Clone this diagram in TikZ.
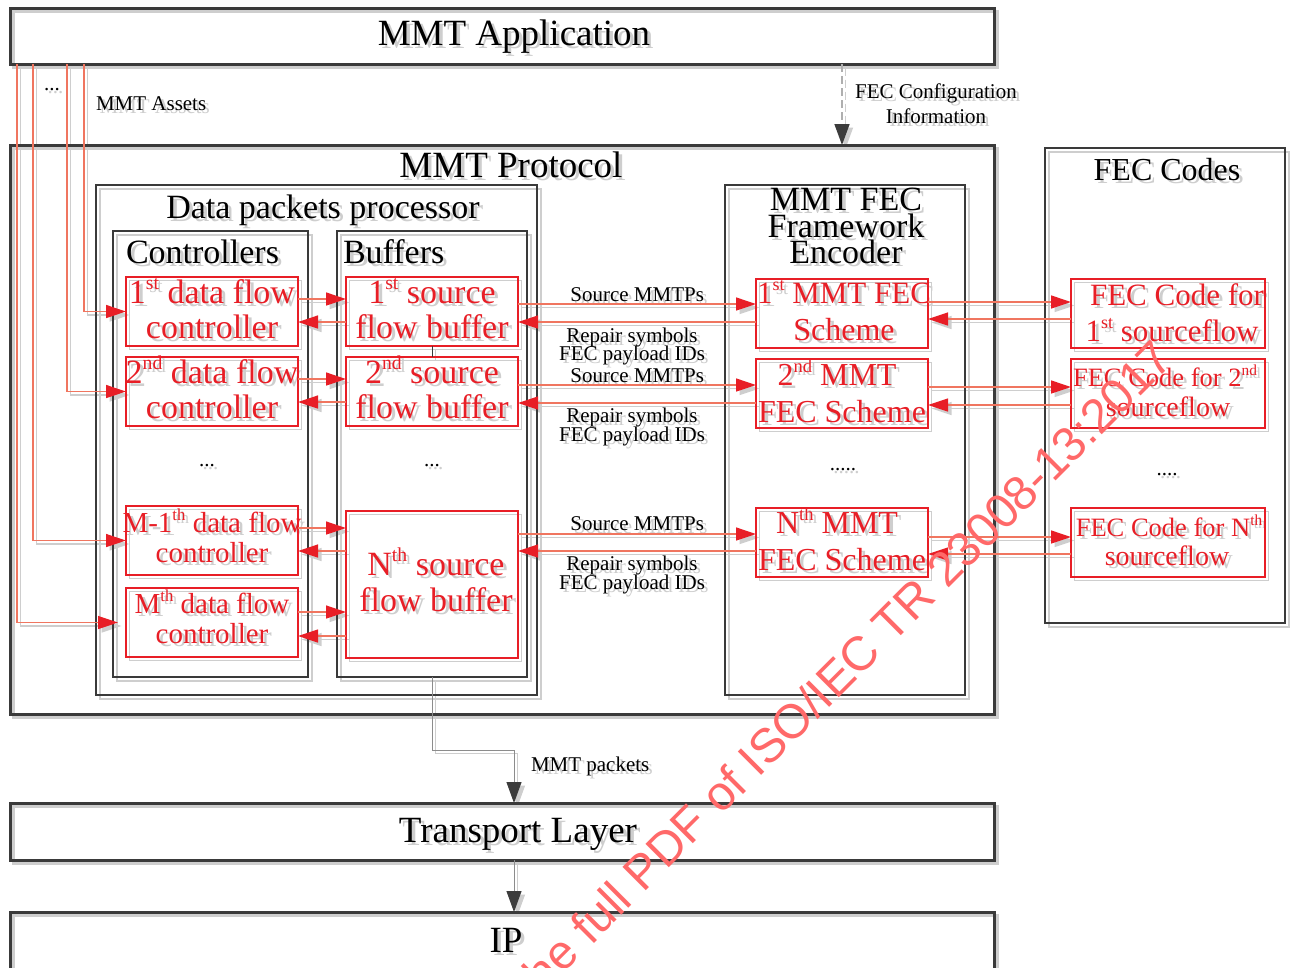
\documentclass[tikz,border=0pt]{standalone}
\usepackage{fontspec}
\setmainfont{Liberation Serif}
\newfontfamily\wmfont{Liberation Sans}
\usetikzlibrary{arrows.meta}

\definecolor{shadowgray}{RGB}{206,206,206}
\definecolor{framecol}{RGB}{58,58,58}
\definecolor{inkcol}{RGB}{0,0,0}
\definecolor{redcol}{RGB}{232,30,38}
\definecolor{linkcol}{RGB}{240,118,96}
\definecolor{tipcol}{RGB}{232,30,38}
\definecolor{graycol}{RGB}{140,140,140}
\definecolor{dashcol}{RGB}{175,175,175}
\definecolor{darktip}{RGB}{60,60,60}
\definecolor{wmcol}{RGB}{255,105,105}

\newcommand\fsz[2]{\fontsize{#1}{#2}\selectfont}
% small raised ordinal suffix
\newcommand\ordsup[1]{\raisebox{0.4em}{\scalebox{0.58}{#1}}}

\tikzset{
  layerbox/.style={draw=framecol, line width=3pt, inner sep=0pt, outer sep=0pt},
  groupbox/.style={draw=framecol, line width=2pt, inner sep=0pt, outer sep=0pt},
  redbox/.style={draw=redcol, line width=1.5pt, inner sep=0pt, outer sep=0pt},
  txt/.style={inner sep=0pt, outer sep=0pt, anchor=base},
  titletext/.style={txt, text=inkcol, font=\fsz{37}{40}},
  subtext/.style={txt, text=inkcol, font=\fsz{34}{36}},
  labeltext/.style={txt, text=inkcol, font=\fsz{21}{21}},
  redtext/.style={txt, text=redcol, font=\fsz{#1}{#1}},
  redtext/.default=34,
  redlink/.style={draw=linkcol, line width=1.3pt, -{Triangle[length=20pt,width=13pt,color=tipcol]}},
  graylink/.style={draw=graycol, line width=1pt, -{Triangle[length=21pt,width=15pt,color=darktip]}},
  dashlink/.style={draw=dashcol, line width=1.6pt, dash pattern=on 8pt off 4pt, -{Triangle[length=21pt,width=15pt,color=darktip]}},
  thinlink/.style={draw=framecol, line width=1pt},
}

% rectangle node from its corners: style, name, x1, y1, x2, y2
\newcommand\boxat[6]{%
  \pgfmathsetmacro\bxw{#5-#3}\pgfmathsetmacro\bxh{#6-#4}%
  \node[#1, minimum width=\bxw, minimum height=\bxh] (#2) at ({(#3+#5)/2},{(#4+#6)/2}) {};}

\newcommand\drawdiagram{%
  % layers and groups
  \boxat{layerbox}{app}{10}{8}{994}{64}
  \boxat{layerbox}{proto}{10}{145}{994}{714}
  \boxat{layerbox}{tl}{10}{803}{994}{860}
  \boxat{layerbox}{ip}{10}{912}{994}{1010}
  \boxat{groupbox}{dpp}{96}{185}{537}{695}
  \boxat{groupbox}{ctrl}{113}{231}{308}{677}
  \boxat{groupbox}{buf}{337}{231}{527}{677}
  \boxat{groupbox}{enc}{725}{185}{965}{695}
  \boxat{groupbox}{codes}{1045}{148}{1285}{623}
  % controllers
  \boxat{redbox}{c1}{126}{277}{298}{346}
  \boxat{redbox}{c2}{126}{357}{298}{426}
  \boxat{redbox}{cm1}{126}{506}{298}{575}
  \boxat{redbox}{cm}{126}{588}{298}{657}
  % buffers
  \boxat{redbox}{b1}{346}{277}{518}{346}
  \boxat{redbox}{b2}{346}{357}{518}{426}
  \boxat{redbox}{bn}{346}{511}{518}{658}
  % FEC schemes
  \boxat{redbox}{s1}{756}{279}{928}{348}
  \boxat{redbox}{s2}{756}{359}{928}{428}
  \boxat{redbox}{sn}{756}{508}{928}{577}
  % FEC codes
  \boxat{redbox}{f1}{1071}{279}{1265}{348}
  \boxat{redbox}{f2}{1071}{359}{1265}{428}
  \boxat{redbox}{fn}{1071}{508}{1265}{577}
  % titles
  \node[titletext] (apptitle) at (514,45) {MMT Application};
  \node[titletext] (prototitle) at (511,177) {MMT Protocol};
  \node[titletext] (tltitle) at (518,842) {Transport Layer};
  \node[titletext] (iptitle) at (506,952) {IP};
  \node[subtext] (dpptitle) at (323,218) {Data packets processor};
  \node[subtext, anchor=base west] (ctrltitle) at (126,263) {Controllers};
  \node[subtext, anchor=base west] (buftitle) at (343,263) {Buffers};
  \node[subtext] (enctitlea) at (846,210) {MMT FEC};
  \node[subtext] (enctitleb) at (846,237) {Framework};
  \node[subtext] (enctitlec) at (846,263) {Encoder};
  \node[subtext, font=\fsz{32}{32}] (codestitle) at (1167,180) {FEC Codes};
  % labels
  \node[labeltext] (appdots) at (52,90) {...};
  \node[labeltext, anchor=base west] (assets) at (96,110) {MMT Assets};
  \node[labeltext] (cfga) at (936,98) {FEC Configuration};
  \node[labeltext] (cfgb) at (936,123) {Information};
  \node[labeltext, anchor=base east] (srca) at (704,301) {Source MMTPs};
  \node[labeltext] (repa) at (632,342) {Repair symbols};
  \node[labeltext] (pida) at (632,360) {FEC payload IDs};
  \node[labeltext, anchor=base east] (srcb) at (704,382) {Source MMTPs};
  \node[labeltext] (repb) at (632,422) {Repair symbols};
  \node[labeltext] (pidb) at (632,441) {FEC payload IDs};
  \node[labeltext, anchor=base east] (srcc) at (704,530) {Source MMTPs};
  \node[labeltext] (repc) at (632,570) {Repair symbols};
  \node[labeltext] (pidc) at (632,589) {FEC payload IDs};
  \node[labeltext, anchor=base west] (pkts) at (531,771) {MMT packets};
  \node[labeltext] (cdots) at (207,466) {...};
  \node[labeltext] (bdots) at (432,466) {...};
  \node[labeltext] (sdots) at (843,470) {.....};
  \node[labeltext] (fdots) at (1167,475) {....};
  % red box texts
  \node[redtext] (c1a) at (212,303) {1\ordsup{st} data flow};
  \node[redtext] (c1b) at (212,338) {controller};
  \node[redtext] (c2a) at (212,383) {2\ordsup{nd} data flow};
  \node[redtext] (c2b) at (212,418) {controller};
  \node[redtext=29] (cm1a) at (212,532) {M-1\ordsup{th} data flow};
  \node[redtext=29] (cm1b) at (212,562) {controller};
  \node[redtext=29] (cma) at (212,613) {M\ordsup{th} data flow};
  \node[redtext=29] (cmb) at (212,643) {controller};
  \node[redtext] (b1a) at (432,303) {1\ordsup{st} source};
  \node[redtext] (b1b) at (432,338) {flow buffer};
  \node[redtext] (b2a) at (432,383) {2\ordsup{nd} source};
  \node[redtext] (b2b) at (432,418) {flow buffer};
  \node[redtext] (bna) at (436,575) {N\ordsup{th} source};
  \node[redtext] (bnb) at (436,611) {flow buffer};
  \node[redtext=31] (s1a) at (844,303) {1\ordsup{st} MMT FEC};
  \node[redtext=32] (s1b) at (844,340) {Scheme};
  \node[redtext=32] (s2a) at (837,385) {2\ordsup{nd} MMT};
  \node[redtext=32] (s2b) at (842,422) {FEC Scheme};
  \node[redtext=32] (sna) at (837,533) {N\ordsup{th} MMT};
  \node[redtext=32] (snb) at (842,570) {FEC Scheme};
  \node[redtext=31] (f1a) at (1177,305) {FEC Code for};
  \node[redtext=31] (f1b) at (1172,341) {1\ordsup{st} sourceflow};
  \node[redtext=26.5] (f2a) at (1165,386) {FEC Code for 2\ordsup{nd}};
  \node[redtext=28] (f2b) at (1168,416) {sourceflow};
  \node[redtext=26.5] (fna) at (1169,536) {FEC Code for N\ordsup{th}};
  \node[redtext=28] (fnb) at (1167,565) {sourceflow};
  % assets from the application to the controllers
  \draw[redlink] (app.south -| 84,0) |- (c1.west);
  \draw[redlink] (app.south -| 67,0) |- (c2.west);
  \draw[redlink] (app.south -| 33,0) |- (cm1.west);
  \draw[redlink, shorten >=8pt] (app.south -| 17,0) |- (cm.west);
  % controllers <-> buffers
  \draw[redlink] (c1.east |- 0,299) -- (b1.west |- 0,299);
  \draw[redlink] (b1.west |- 0,322) -- (c1.east |- 0,322);
  \draw[redlink] (c2.east |- 0,379) -- (b2.west |- 0,379);
  \draw[redlink] (b2.west |- 0,402) -- (c2.east |- 0,402);
  \draw[redlink] (cm1.east |- 0,528) -- (bn.west |- 0,528);
  \draw[redlink] (bn.west |- 0,551) -- (cm1.east |- 0,551);
  \draw[redlink] (cm.east |- 0,612) -- (bn.west |- 0,612);
  \draw[redlink] (bn.west |- 0,636) -- (cm.east |- 0,636);
  \draw[thinlink] (b1.south) -- (b2.north);
  % buffers <-> FEC schemes
  \draw[redlink] (b1.east |- 0,304) -- (s1.west |- 0,304);
  \draw[redlink] (s1.west |- 0,322) -- (b1.east |- 0,322);
  \draw[redlink] (b2.east |- 0,385) -- (s2.west |- 0,385);
  \draw[redlink] (s2.west |- 0,403) -- (b2.east |- 0,403);
  \draw[redlink] (bn.east |- 0,534) -- (sn.west |- 0,534);
  \draw[redlink] (sn.west |- 0,551) -- (bn.east |- 0,551);
  % FEC schemes <-> FEC codes
  \draw[redlink] (s1.east |- 0,302) -- (f1.west |- 0,302);
  \draw[redlink] (f1.west |- 0,319) -- (s1.east |- 0,319);
  \draw[redlink] (s2.east |- 0,387) -- (f2.west |- 0,387);
  \draw[redlink] (f2.west |- 0,405) -- (s2.east |- 0,405);
  \draw[redlink] (sn.east |- 0,537) -- (fn.west |- 0,537);
  \draw[redlink] (fn.west |- 0,554) -- (sn.east |- 0,554);
  % configuration and packet flow
  \draw[dashlink] (app.south -| 842,0) -- (proto.north -| 842,0);
  \coordinate (bend) at (514,750);
  \draw[graylink] (buf.south) |- (bend) -- (tl.north -| bend);
  \draw[graylink] (tl.south -| bend) -- (ip.north -| bend);
}

\begin{document}
\begin{tikzpicture}[x=1pt,y=-1pt]
  \path[use as bounding box, fill=white] (0,0) rectangle (1290,967);
  \clip (0,0) rectangle (1290,967);
  % soft drop shadow of every element
  \begin{scope}[shift={(3.5,3.5)}]
    \colorlet{framecol}{shadowgray}\colorlet{inkcol}{shadowgray}
    \colorlet{redcol}{shadowgray}\colorlet{linkcol}{shadowgray}
    \colorlet{tipcol}{shadowgray}\colorlet{graycol}{shadowgray}
    \colorlet{dashcol}{shadowgray}\colorlet{darktip}{shadowgray}
    \drawdiagram
  \end{scope}
  \drawdiagram
  % stamp across the page
  \node[font=\wmfont\fsz{48}{48}, text=wmcol, rotate=45, anchor=base east, inner sep=0pt] (stamp) at (1176,361) {the full PDF of ISO/IEC TR 23008-13:2017};
\end{tikzpicture}
\end{document}
